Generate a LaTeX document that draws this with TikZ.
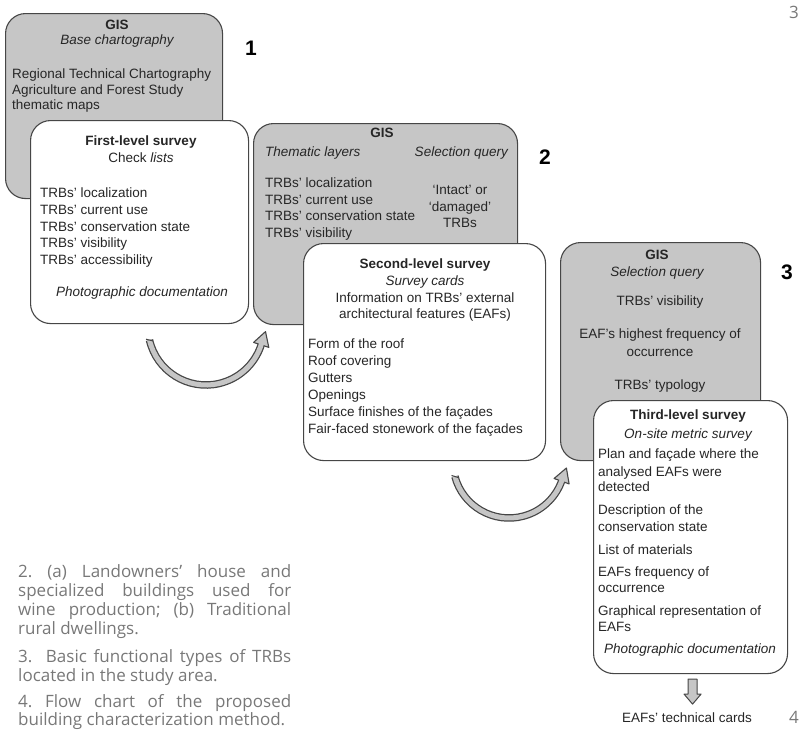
\documentclass[tikz,border=0pt]{standalone}
\usepackage{fontspec}
\setmainfont{Liberation Sans}
\newfontfamily\capfont[Ligatures=TeX]{Open Sans}
\usetikzlibrary{calc}
\definecolor{boxgray}{RGB}{198,198,198}
\definecolor{edgegray}{RGB}{70,70,70}
\definecolor{capgray}{RGB}{120,120,120}
\frenchspacing
\begin{document}
\begin{tikzpicture}[x=1pt, y=-1pt,
    gisbox/.style={draw=edgegray, fill=boxgray, line width=1.1pt, rounded corners=20pt, anchor=north west, inner sep=0pt},
    survbox/.style={draw=edgegray, fill=white, line width=1.1pt, rounded corners=20pt, anchor=north west, inner sep=0pt},
    txt/.style={inner sep=0pt, text=black!85, font=\fontsize{13.5}{16}\selectfont},
    head/.style={txt, font=\fontsize{13.5}{16}\selectfont\bfseries},
    sub/.style={txt, font=\fontsize{13.5}{16}\selectfont\itshape},
    stage/.style={inner sep=0pt, font=\fontsize{21}{21}\selectfont\bfseries},
    band/.style={line width=7.5pt, draw=edgegray},
    bandfill/.style={line width=5pt, draw=boxgray},
    headtip/.style={fill=boxgray, draw=edgegray, line width=1.1pt, line join=round},
    capt/.style={inner sep=0pt, text=capgray, font=\capfont\fontsize{17}{19}\selectfont}]
    \useasboundingbox (0,0) rectangle (800,729);

    % Stage 1
    \node[gisbox, minimum width=217pt, minimum height=185pt] (gis1) at (5,13) {};
    \node[head, anchor=base] (gis1t) at (117,29.5) {GIS};
    \node[sub, anchor=base] (gis1s) at (117,44.5) {Base chartography};
    \node[txt, anchor=base west] (map1) at (12,78) {Regional Technical Chartography};
    \node[txt, anchor=base west] (map2) at (12,94) {Agriculture and Forest Study};
    \node[txt, anchor=base west] (map3) at (12,109.5) {thematic maps};
    \node[stage] (n1) at (251,48) {1};

    \node[survbox, minimum width=218pt, minimum height=203pt] (surv1) at (30,120) {};
    \node[head, anchor=base] (surv1t) at (141,145.5) {First-level survey};
    \node[txt, anchor=base] (surv1s) at (141,162.5) {Check \textit{lists}};
    \foreach \t [count=\i] in {TRBs' localization, TRBs' current use, TRBs' conservation state, TRBs' visibility, TRBs' accessibility}
        \node[txt, anchor=base west] (chk\i) at (40,180.75+16.75*\i) {\t};
    \node[sub, anchor=base] (photo1) at (142,296.5) {Photographic documentation};

    % Stage 2
    \node[gisbox, minimum width=264pt, minimum height=201pt] (gis2) at (253,123) {};
    \node[head, anchor=base] (gis2t) at (382,137.5) {GIS};
    \node[sub, anchor=base west] (layers) at (265,156.5) {Thematic layers};
    \node[sub, anchor=base east] (query2) at (508,156.5) {Selection query};
    \foreach \t [count=\i] in {TRBs' localization, TRBs' current use, TRBs' conservation state, TRBs' visibility}
        \node[txt, anchor=base west] (lay\i) at (265,171.3+16.5*\i) {\t};
    \foreach \t [count=\i] in {`Intact' or, `damaged', TRBs}
        \node[txt, anchor=base] (res\i) at (460,178+16.5*\i) {\t};
    \node[stage] (n2) at (545,157) {2};

    \node[survbox, minimum width=242pt, minimum height=217pt] (surv2) at (303,243) {};
    \node[head, anchor=base] (surv2t) at (425,268) {Second-level survey};
    \node[sub, anchor=base] (surv2s) at (425,285) {Survey cards};
    \node[txt, anchor=base] (info1) at (425,302) {Information on TRBs' external};
    \node[txt, anchor=base] (info2) at (425,318) {architectural features (EAFs)};
    \foreach \t [count=\i] in {Form of the roof, Roof covering, Gutters, Openings, Surface finishes of the façades, Fair-faced stonework of the façades}
        \node[txt, anchor=base west] (eaf\i) at (308,331.5+17*\i) {\t};

    % Stage 3
    \node[gisbox, minimum width=200pt, minimum height=218pt] (gis3) at (560,242) {};
    \node[head, anchor=base] (gis3t) at (657,259.5) {GIS};
    \node[sub, anchor=base] (query3) at (657,276) {Selection query};
    \node[txt, anchor=base] (sel1) at (660,305) {TRBs' visibility};
    \node[txt, anchor=base] (sel2) at (660,338) {EAF's highest frequency of};
    \node[txt, anchor=base] (sel3) at (660,356) {occurrence};
    \node[txt, anchor=base] (sel4) at (660,389.5) {TRBs' typology};
    \node[stage] (n3) at (787,272) {3};

    \node[survbox, minimum width=194pt, minimum height=273pt] (surv3) at (593,400) {};
    \node[head, anchor=base] (surv3t) at (688,419.5) {Third-level survey};
    \node[sub, anchor=base] (surv3s) at (688,438) {On-site metric survey};
    \foreach \y/\t [count=\i] in {458/Plan and façade where the, 476/analysed EAFs were, 491/detected, 514.5/Description of the, 531/conservation state, 554/List of materials, 576/EAFs frequency of, 592/occurrence, 615/Graphical representation of, 631/EAFs}
        \node[txt, anchor=base west] (met\i) at (598,\y) {\t};
    \node[sub, anchor=base] (photo3) at (690,653) {Photographic documentation};

    % Output
    \node[txt, anchor=base] (cards) at (687,722.5) {EAFs' technical cards};
    \filldraw[headtip, line width=1pt] ($(surv3.south)+(-2.5,5)$) -- ++(0,15) -- ++(-4,0) -- ++(8.5,10)
        -- ++(8.5,-10) -- ++(-4,0) -- ++(0,-15) -- cycle;

    % Links between stages
    \coordinate (c1) at (206,327);
    \coordinate (a1s) at ($(c1)+(167:58)$);
    \draw[band] (a1s) arc[start angle=167, end angle=18, radius=58];
    \filldraw[headtip] (253.6,342.4) -- (265.5,331.6) -- (268.8,347.4) -- cycle;
    \draw[bandfill] (a1s) arc[start angle=167, end angle=16.8, radius=58];
    \draw[edgegray, line width=1.1pt] (a1s) ++(-3.4,-0.8) -- ++(6.8,1.6);

    \coordinate (c2) at (509,462);
    \coordinate (a2s) at ($(c2)+(165:56)$);
    \draw[band] (a2s) arc[start angle=165, end angle=20, radius=56];
    \filldraw[headtip] (554.1,478.5) -- (566.4,468.0) -- (569.1,483.9) -- cycle;
    \draw[bandfill] (a2s) arc[start angle=165, end angle=18.8, radius=56];
    \draw[edgegray, line width=1.1pt] (a2s) ++(-3.4,-1) -- ++(6.8,2);

    % Caption text
    \node[capt, anchor=base west] (cap1) at (18,577) {\makebox[273pt][s]{2. (a) Landowners’ house and}};
    \node[capt, anchor=base west] (cap2) at (18,596) {\makebox[273pt][s]{specialized buildings used for}};
    \node[capt, anchor=base west] (cap3) at (18,615) {\makebox[273pt][s]{wine production; (b) Traditional}};
    \node[capt, anchor=base west] (cap4) at (18,634) {rural dwellings.};
    \node[capt, anchor=base west] (cap5) at (18,662) {\makebox[273pt][s]{3.\ \ Basic functional types of TRBs}};
    \node[capt, anchor=base west] (cap6) at (18,681) {located in the study area.};
    \node[capt, anchor=base west] (cap7) at (18,707) {\makebox[273pt][s]{4. Flow chart of the proposed}};
    \node[capt, anchor=base west] (cap8) at (18,725) {building characterization method.};
    \node[capt, anchor=base east] (pg3) at (799,18) {3};
    \node[capt, anchor=base east] (pg4) at (799,723) {4};
\end{tikzpicture}
\end{document}
